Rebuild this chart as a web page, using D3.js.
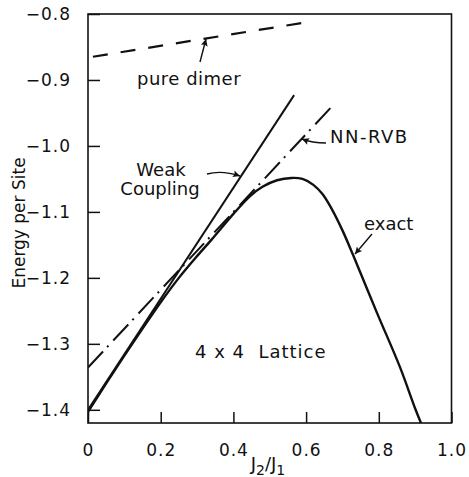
<!DOCTYPE html>
<html>
<head>
<meta charset="utf-8">
<script src="https://cdn.jsdelivr.net/npm/d3@7"></script>
<style>
    body { margin: 0; background: #fff; }
    svg { display: block; }
    text { font-family: 'DejaVu Sans', sans-serif; fill: #111; }
</style>
</head>
<body>
<script>
window.document.addEventListener('DOMContentLoaded', init, false);

// exact diagonalisation, 4x4 lattice
var exactJ2 = [0, 0.05, 0.1, 0.15, 0.2, 0.25, 0.3, 0.34, 0.4, 0.446, 0.48, 0.52, 0.56, 0.59, 0.62, 0.645, 0.67, 0.7, 0.729, 0.795, 0.858, 0.9, 0.916];
var exactEnergy = [-1.403, -1.360, -1.318, -1.277, -1.237, -1.200, -1.167, -1.142, -1.103, -1.076, -1.062, -1.052, -1.0485, -1.050, -1.059, -1.073, -1.095, -1.128, -1.165, -1.253, -1.335, -1.398, -1.42];

var weakJ2 = [0, 0.567];
var weakEnergy = [-1.40, -0.923];

var rvbJ2 = [0, 0.668];
var rvbEnergy = [-1.336, -0.942];

var dimerJ2 = [0, 0.59];
var dimerEnergy = [-0.866, -0.8135];

var xTicks = [0, 0.2, 0.4, 0.6, 0.8, 1.0];
var xTickLabels = ['0', '0.2', '0.4', '0.6', '0.8', '1.0'];
var yTicks = [-0.8, -0.9, -1.0, -1.1, -1.2, -1.3, -1.4];
var yTickLabels = ['\u22120.8', '\u22120.9', '\u22121.0', '\u22121.1', '\u22121.2', '\u22121.3', '\u22121.4'];

var ink = '#111';
var x = d3.scaleLinear().domain([0, 1]).range([88, 451.5]);
var y = d3.scaleLinear().domain([-1.42, -0.8]).range([423, 14]);

function init() {
    var svg = d3.select('body')
        .append('svg')
        .attr('width', 469)
        .attr('height', 477);

    svg.append('defs')
        .append('marker')
            .attr('id', 'head')
            .attr('viewBox', '0 0 10 10')
            .attr('refX', 10)
            .attr('refY', 5)
            .attr('markerWidth', 9)
            .attr('markerHeight', 7)
            .attr('markerUnits', 'userSpaceOnUse')
            .attr('orient', 'auto')
        .append('path')
            .attr('d', 'M0,0 L10,5 L0,10 L2,5 Z')
            .attr('fill', ink);

    svg.append('clipPath')
        .attr('id', 'plot')
        .append('rect')
            .attr('x', x(0))
            .attr('y', y(-0.8))
            .attr('width', x(1) - x(0))
            .attr('height', y(-1.42) - y(-0.8));

    drawAxes(svg);

    var curves = svg.append('g').attr('clip-path', 'url(#plot)');
    drawSeries(curves, exactJ2, exactEnergy, null, 2.4, d3.curveCatmullRom.alpha(0.5));
    drawSeries(curves, weakJ2, weakEnergy, null, 2, d3.curveLinear);
    drawSeries(curves, rvbJ2, rvbEnergy, '22 6 2 7', 2, d3.curveLinear);
    drawSeries(curves, dimerJ2, dimerEnergy, '0 5 15 8', 2.2, d3.curveLinear);

    drawLabels(svg);
}

function drawAxes(svg) {
    var bottom = svg.append('g')
        .attr('transform', `translate(0, ${y(-1.42)})`)
        .call(d3.axisBottom(x)
            .tickValues(xTicks)
            .tickFormat((d, i) => xTickLabels[i])
            .tickSizeInner(-11)
            .tickSizeOuter(0)
            .tickPadding(21));

    var left = svg.append('g')
        .attr('transform', `translate(${x(0)}, 0)`)
        .call(d3.axisLeft(y)
            .tickValues(yTicks)
            .tickFormat((d, i) => yTickLabels[i])
            .tickSizeInner(-12)
            .tickSizeOuter(0)
            .tickPadding(17));

    [bottom, left].forEach((g) => {
        g.select('.domain').remove();
        g.selectAll('.tick line').attr('stroke', ink).attr('stroke-width', 1.5);
        g.selectAll('.tick text')
            .attr('font-family', "'DejaVu Sans', sans-serif")
            .attr('font-size', 17)
            .attr('letter-spacing', 1)
            .attr('fill', ink);
    });

    // frame around the plot area
    svg.append('rect')
        .attr('x', x(0))
        .attr('y', y(-0.8))
        .attr('width', x(1) - x(0))
        .attr('height', y(-1.42) - y(-0.8))
        .attr('fill', 'none')
        .attr('stroke', ink)
        .attr('stroke-width', 1.6);

    svg.append('text')
        .attr('transform', 'translate(25, 223) rotate(-90)')
        .attr('text-anchor', 'middle')
        .attr('font-size', 17)
        .text('Energy per Site');

    var xLabel = svg.append('text')
        .attr('x', 268)
        .attr('y', 470)
        .attr('text-anchor', 'middle')
        .attr('font-size', 18);
    xLabel.append('tspan').text('J');
    xLabel.append('tspan').attr('dy', 5).attr('font-size', 14).text('2');
    xLabel.append('tspan').attr('dy', -5).text('/J');
    xLabel.append('tspan').attr('dy', 5).attr('font-size', 14).text('1');
}

function drawSeries(group, xs, ys, dash, width, curve) {
    var line = d3.line()
        .x((d) => x(d[0]))
        .y((d) => y(d[1]))
        .curve(curve);

    group.append('path')
        .datum(d3.zip(xs, ys))
        .attr('d', line)
        .attr('fill', 'none')
        .attr('stroke', ink)
        .attr('stroke-width', width)
        .attr('stroke-dasharray', dash);
}

function addText(svg, px, py, str, anchor, spacing) {
    return svg.append('text')
        .attr('x', px)
        .attr('y', py)
        .attr('text-anchor', anchor)
        .attr('font-size', 18)
        .attr('letter-spacing', spacing)
        .attr('xml:space', 'preserve')
        .text(str);
}

function addArrow(svg, d) {
    svg.append('path')
        .attr('d', d)
        .attr('fill', 'none')
        .attr('stroke', ink)
        .attr('stroke-width', 1.4)
        .attr('marker-end', 'url(#head)');
}

function drawLabels(svg) {
    addText(svg, 137, 85, 'pure dimer', 'start', 0.5);
    addArrow(svg, 'M200,62 L206,39');

    addText(svg, 161, 176, 'Weak', 'middle', 0);
    addText(svg, 160, 195, 'Coupling', 'middle', 0);
    addArrow(svg, 'M207,174 Q222,170 240,176');

    addText(svg, 330, 143, 'NN-RVB', 'start', 1.5);
    addArrow(svg, 'M326,143 Q312,143 302,139');

    addText(svg, 364, 230, 'exact', 'start', 0);
    addArrow(svg, 'M372,234 L355,254');

    addText(svg, 195, 358, '4 x 4  Lattice', 'start', 1);
}
</script>
</body>
</html>
